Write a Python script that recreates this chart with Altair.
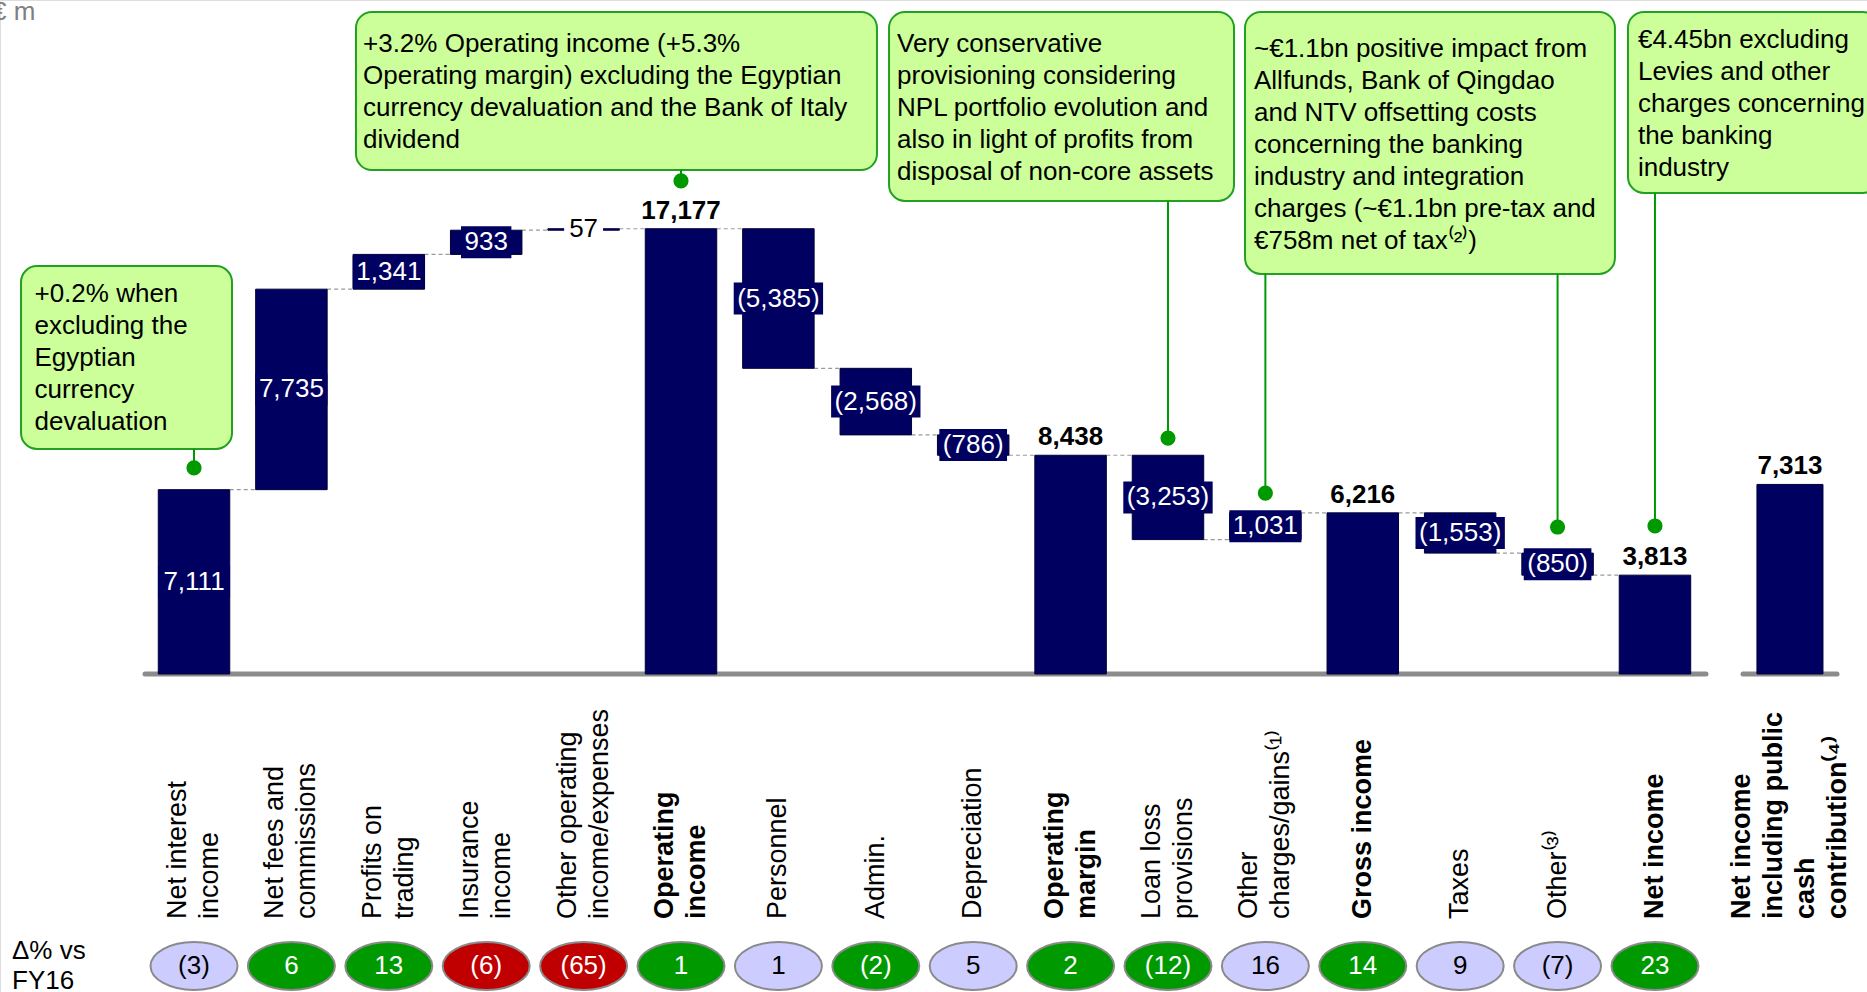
import altair as alt
import pandas as pd

# ---------------------------------------------------------------- figures (€ m)
categories = [
    ["Net interest", "income"],
    ["Net fees and", "commissions"],
    ["Profits on", "trading"],
    ["Insurance", "income"],
    ["Other operating", "income/expenses"],
    ["Operating", "income"],
    ["Personnel"],
    ["Admin."],
    ["Depreciation"],
    ["Operating", "margin"],
    ["Loan loss", "provisions"],
    ["Other", "charges/gains⁽¹⁾"],
    ["Gross income"],
    ["Taxes"],
    ["Other⁽³⁾"],
    ["Net income"],
    ["Net income", "including public", "cash", "contribution⁽⁴⁾"],
]
values = [7111, 7735, 1341, 933, 57, 17177, -5385, -2568, -786, 8438,
          -3253, 1031, 6216, -1553, -850, 3813, 7313]
is_total = [False, False, False, False, False, True, False, False, False, True,
            False, False, True, False, False, True, True]
delta_vs_fy16 = ["(3)", "6", "13", "(6)", "(65)", "1", "1", "(2)", "5", "2",
                 "(12)", "16", "14", "9", "(7)", "23"]
delta_tone = ["flat", "good", "good", "bad", "bad", "good", "flat", "good", "flat",
              "good", "good", "flat", "good", "flat", "flat", "good"]

callout_lines = [
    ["+0.2% when", "excluding the", "Egyptian", "currency", "devaluation"],
    ["+3.2% Operating income (+5.3%", "Operating margin) excluding the Egyptian",
     "currency devaluation and the Bank of Italy", "dividend"],
    ["Very conservative", "provisioning considering", "NPL portfolio evolution and",
     "also in light of profits from", "disposal of non-core assets"],
    ["~€1.1bn positive impact from", "Allfunds, Bank of Qingdao",
     "and NTV offsetting costs", "concerning the banking",
     "industry and integration", "charges (~€1.1bn pre-tax and",
     "€758m net of tax⁽²⁾)"],
    ["€4.45bn excluding", "Levies and other", "charges concerning",
     "the banking", "industry"],
]
# callout frames in chart units: slot index (x) and € m (y)
callout_x1 = [-1.776, 1.663, 7.136, 10.791, 14.723]
callout_x2 = [0.390, 7.012, 10.678, 14.589, 17.30]
callout_top = [15740, 25540, 25540, 25540, 25540]
callout_bottom = [8680, 19440, 18250, 15430, 18560]
callout_text_x = [-1.638, 1.735, 7.218, 10.883, 14.825]
callout_text_top = [15160, 24800, 24800, 24610, 24960]
# (callout number, bar slot, € m level of the marker dot)
callout_anchor = [(0, 0, 7950), (1, 5, 19020), (2, 10, 9100),
                  (3, 11, 6980), (3, 14, 5670), (4, 15, 5710)]

# ---------------------------------------------------------------- layout / style
W, H = 1867, 992
X_DOMAIN = [-1.992, 17.177]
Y_DOMAIN = [-12268, 26001]
PX_PER_SLOT = W / (X_DOMAIN[1] - X_DOMAIN[0])
PX_PER_EUR = H / (Y_DOMAIN[1] - Y_DOMAIN[0])
SEPARATE_GAP = 1.386          # extra spacing before the stand-alone last bar
BAR_HALF = 0.367
LAST_BAR_HALF = 0.339
LABEL_Y = 919
LABEL_LH = 32
PILL_Y = 966
FONT = "Liberation Sans, Arial, Helvetica, sans-serif"
FS = 26
NAVY = "#000060"
GREEN = "#009900"

XS = alt.Scale(domain=X_DOMAIN, nice=False, zero=False)
YS = alt.Scale(domain=Y_DOMAIN, nice=False, zero=False)


def X(field):
    return alt.X(field, type="quantitative", scale=XS, axis=None)


def Y(field):
    return alt.Y(field, type="quantitative", scale=YS, axis=None)


def text_px(s, size=FS):
    widths = {",": 0.278, "(": 0.333, ")": 0.333}
    return sum(widths.get(c, 0.556) for c in s) * size


def fmt(v):
    s = f"{abs(v):,}"
    return f"({s})" if v < 0 else s


# ---------------------------------------------------------------- waterfall table
rows = []
running = 0
n = len(values)
for i, (v, tot) in enumerate(zip(values, is_total)):
    slot = i if i < n - 1 else (n - 2) + SEPARATE_GAP
    half = BAR_HALF if i < n - 1 else LAST_BAR_HALF
    if tot:
        start, end = 0, v
    else:
        start, end = running, running + v
    running = end
    lines = categories[i]
    # rotated multi-line labels: shift so the block of lines is centred on the bar
    label_x = slot - (len(lines) - 1) * LABEL_LH / 2 / PX_PER_SLOT
    rows.append(dict(slot=slot, lo=slot - half, hi=slot + half, start=start, end=end,
                     mid=(start + end) / 2, label=fmt(v), total=tot,
                     lines=lines, label_x=label_x))
bars = pd.DataFrame(rows)

# value labels of the step bars sit on a small box
steps = bars[~bars.total].copy()
thin = (steps.end - steps.start).abs() * PX_PER_EUR < 8
steps["box_fill"] = [("white" if t else NAVY) for t in thin]
steps["text_fill"] = [("black" if t else "white") for t in thin]
box_half = [(text_px(s) + (10 if t else 7)) / 2 / PX_PER_SLOT
            for s, t in zip(steps.label, thin)]
steps["bx1"] = steps.slot - box_half
steps["bx2"] = steps.slot + box_half
steps["by1"] = steps.mid - 16 / PX_PER_EUR
steps["by2"] = steps.mid + 16 / PX_PER_EUR
totals = bars[bars.total]

# dashed connectors between consecutive bars of the main cascade
conn = pd.DataFrame([
    dict(x1=bars.hi[i], x2=bars.lo[i + 1], level=bars.end[i]) for i in range(n - 2)
])

baseline = pd.DataFrame(dict(x1=[-0.503, 15.904], x2=[15.524, 16.869], zero=[0, 0]))

pills = pd.DataFrame(dict(slot=bars.slot[: len(delta_vs_fy16)], txt=delta_vs_fy16,
                          tone=delta_tone))

callouts = pd.DataFrame(dict(x1=callout_x1, x2=callout_x2, top=callout_top,
                             bottom=callout_bottom, text_x=callout_text_x,
                             text_top=callout_text_top, lines=callout_lines))
anchors = pd.DataFrame([
    dict(slot=s, dot=d, bottom=callout_bottom[c]) for c, s, d in callout_anchor
])

# ---------------------------------------------------------------- layers
frames = alt.Chart(callouts).mark_rect(
    fill="#ccff99", stroke="#22a022", strokeWidth=2, cornerRadius=16
).encode(x=X("x1"), x2=alt.X2("x2"), y=Y("top"), y2=alt.Y2("bottom"))

frame_text = alt.Chart(callouts).mark_text(
    align="left", baseline="top", font=FONT, fontSize=FS, lineHeight=32,
    color="black"
).encode(x=X("text_x"), y=Y("text_top"), text=alt.Text("lines:N"))

leaders = alt.Chart(anchors).mark_rule(color=GREEN, strokeWidth=2).encode(
    x=X("slot"), y=Y("bottom"), y2=alt.Y2("dot"))

dots = alt.Chart(anchors).mark_circle(size=230, color=GREEN, opacity=1).encode(
    x=X("slot"), y=Y("dot"))

axis_line = alt.Chart(baseline).mark_rule(
    color="#8c8c8c", strokeWidth=5, strokeCap="round"
).encode(x=X("x1"), x2=alt.X2("x2"), y=Y("zero"))

connectors = alt.Chart(conn).mark_rule(
    color="#9a9a9a", strokeWidth=1.2, strokeDash=[4, 3]
).encode(x=X("x1"), x2=alt.X2("x2"), y=Y("level"))

bar_marks = alt.Chart(bars).mark_rect(fill=NAVY, stroke="#00003a", strokeWidth=1).encode(
    x=X("lo"), x2=alt.X2("hi"), y=Y("start"), y2=alt.Y2("end"))

step_boxes = alt.Chart(steps).mark_rect().encode(
    x=X("bx1"), x2=alt.X2("bx2"), y=Y("by1"), y2=alt.Y2("by2"),
    fill=alt.Fill("box_fill:N", scale=None))

step_text = alt.Chart(steps).mark_text(
    font=FONT, fontSize=FS, baseline="middle", align="center"
).encode(x=X("slot"), y=Y("mid"), text="label:N",
         color=alt.Color("text_fill:N", scale=None))

total_text = alt.Chart(totals).mark_text(
    font=FONT, fontSize=FS, fontWeight="bold", baseline="alphabetic",
    align="center", dy=-10, color="black"
).encode(x=X("slot"), y=Y("end"), text="label:N")

cat_normal = alt.Chart(bars[~bars.total]).mark_text(
    font=FONT, fontSize=27, angle=270, align="left", baseline="middle",
    lineHeight=LABEL_LH, color="black"
).encode(x=X("label_x"), y=alt.value(LABEL_Y), text=alt.Text("lines:N"))

cat_bold = alt.Chart(bars[bars.total]).mark_text(
    font=FONT, fontSize=27, fontWeight="bold", angle=270, align="left",
    baseline="middle", lineHeight=LABEL_LH, color="black"
).encode(x=X("label_x"), y=alt.value(LABEL_Y), text=alt.Text("lines:N"))

ELLIPSE = "M-1,0A1,0.552,0,1,1,1,0A1,0.552,0,1,1,-1,0Z"
pill_marks = alt.Chart(pills).mark_point(
    shape=ELLIPSE, filled=True, size=87 ** 2, stroke="#8a8a8a",
    strokeWidth=2, opacity=1
).encode(
    x=X("slot"), y=alt.value(PILL_Y),
    fill=alt.Fill("tone:N", legend=None,
                  scale=alt.Scale(domain=["flat", "good", "bad"],
                                  range=["#ccccff", GREEN, "#c00000"])))

pill_text = alt.Chart(pills).mark_text(
    font=FONT, fontSize=FS, baseline="middle", align="center"
).encode(
    x=X("slot"), y=alt.value(PILL_Y), text="txt:N",
    color=alt.Color("tone:N", legend=None,
                    scale=alt.Scale(domain=["flat", "good", "bad"],
                                    range=["black", "white", "white"])))

unit_text = alt.Chart(pd.DataFrame(dict(t=["€ m"]))).mark_text(
    font=FONT, fontSize=FS, align="left", baseline="middle", color="#808080"
).encode(x=alt.value(-8), y=alt.value(12), text="t:N")

delta_title = alt.Chart(pd.DataFrame(dict(t=[["Δ% vs", "FY16"]]))).mark_text(
    font=FONT, fontSize=FS, align="left", baseline="middle", lineHeight=30,
    color="black"
).encode(x=alt.value(12), y=alt.value(951), text=alt.Text("t:N"))

chart = alt.layer(
    frames, leaders, axis_line, connectors, bar_marks, step_boxes, step_text,
    total_text, cat_normal, cat_bold, pill_marks, pill_text, frame_text, dots,
    unit_text, delta_title,
).properties(
    width=W, height=H, padding=0,
    autosize=alt.AutoSizeParams(type="none"),
).configure_view(stroke=None).configure(background="white")

chart.save("out.html", embed_options={"renderer": "svg", "actions": False})
